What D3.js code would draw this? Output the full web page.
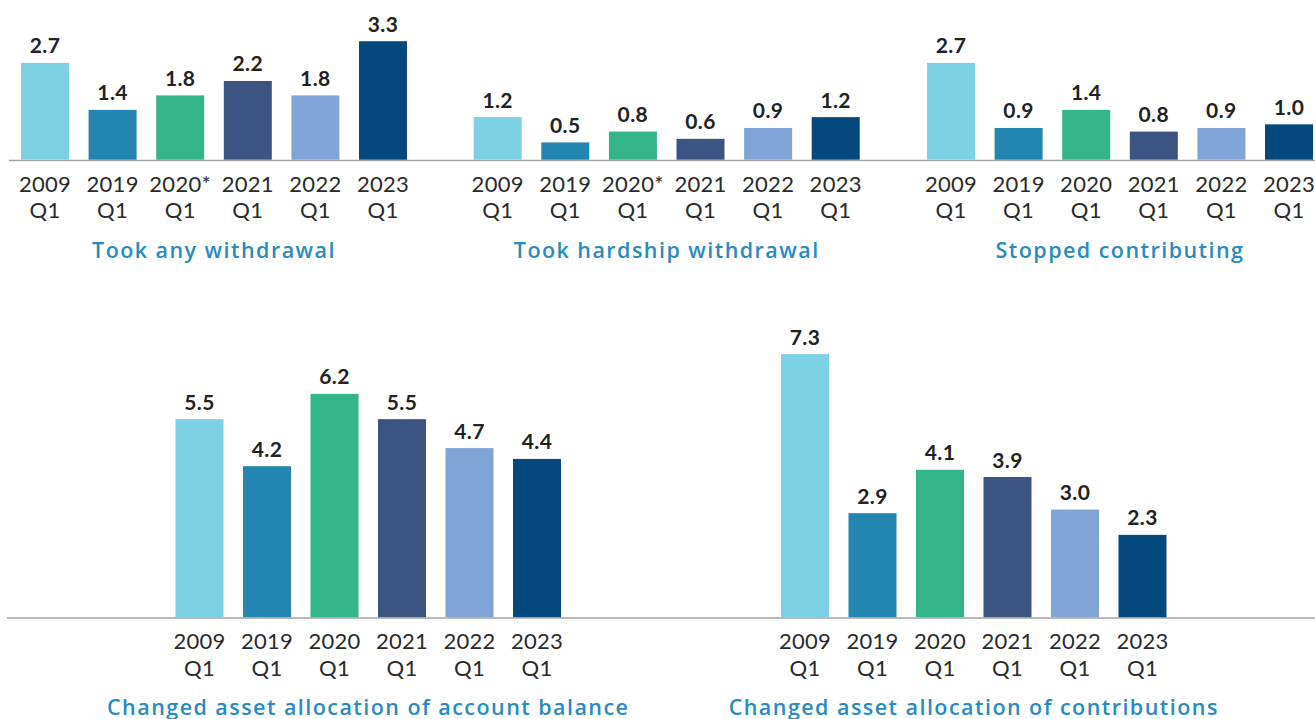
<!DOCTYPE html>
<html>
<head>
<meta charset="utf-8">
<script src="https://cdn.jsdelivr.net/npm/d3@7"></script>
<style>
  html, body { margin: 0; padding: 0; background: #fff; }
  svg { display: block; font-family: Lato, "Open Sans", sans-serif; }
</style>
</head>
<body>
<div id="chart"></div>
<script>
// nhãn trục (2 dòng: năm / quý)
const periods     = ["2009 Q1", "2019 Q1", "2020 Q1", "2021 Q1", "2022 Q1", "2023 Q1"];
const periodsStar = ["2009 Q1", "2019 Q1", "2020* Q1", "2021 Q1", "2022 Q1", "2023 Q1"];

// giá trị (%)
const anyWithdrawal      = [2.7, 1.4, 1.8, 2.2, 1.8, 3.3];
const hardshipWithdrawal = [1.2, 0.5, 0.8, 0.6, 0.9, 1.2];
const stoppedContrib     = [2.7, 0.9, 1.4, 0.8, 0.9, 1.0];
const changedBalance     = [5.5, 4.2, 6.2, 5.5, 4.7, 4.4];
const changedContrib     = [7.3, 2.9, 4.1, 3.9, 3.0, 2.3];

const titles = [
  "Took any withdrawal",
  "Took hardship withdrawal",
  "Stopped contributing",
  "Changed asset allocation of account balance",
  "Changed asset allocation of contributions"
];

const colors = ["#7dd1e4", "#2286b0", "#33b589", "#3c5482", "#80a4d6", "#03497e"];

const W = 1315, H = 719;
const pxPerUnit = 36.15;
const barW = 48;

// bố cục: hàng trên / hàng dưới
const rows = [
  { base: 160.5, lineX0: 9, step: 67.6 },
  { base: 618, lineX0: 7, step: 67.5 }
];

const panels = [
  { row: 0, x0: 21,    cats: periodsStar, values: anyWithdrawal,      title: titles[0] },
  { row: 0, x0: 473.7, cats: periodsStar, values: hardshipWithdrawal, title: titles[1] },
  { row: 0, x0: 927,   cats: periods,     values: stoppedContrib,     title: titles[2] },
  { row: 1, x0: 175.5, cats: periods,     values: changedBalance,     title: titles[3] },
  { row: 1, x0: 781,   cats: periods,     values: changedContrib,     title: titles[4] }
];

const svg = d3.select("#chart").append("svg")
  .attr("width", W)
  .attr("height", H);

const fmt = d3.format(".1f");

// đường nền
rows.forEach(r => {
  svg.append("line")
    .attr("x1", r.lineX0).attr("x2", W)
    .attr("y1", r.base).attr("y2", r.base)
    .attr("stroke", "#a3a3a3")
    .attr("stroke-width", 1.6);
});

panels.forEach(p => {
  const r = rows[p.row];
  const gap = r.step - barW;
  const start = p.x0 - gap / 2;

  const x = d3.scaleBand()
    .domain(p.cats)
    .range([start, start + r.step * p.cats.length])
    .paddingInner(gap / r.step)
    .paddingOuter(gap / r.step / 2);

  const y = d3.scaleLinear()
    .domain([0, 1])
    .range([r.base, r.base - pxPerUnit]);

  const items = p.cats.map((c, i) => ({ cat: c, value: p.values[i], color: colors[i] }));

  const g = svg.append("g");

  // Bars
  g.selectAll(".bar")
    .data(items)
    .enter().append("rect")
      .attr("class", "bar")
      .attr("x", d => x(d.cat))
      .attr("width", x.bandwidth())
      .attr("y", d => y(d.value))
      .attr("height", d => y(0) - y(d.value) - 0.8)
      .attr("fill", d => d.color);

  // Value labels
  g.selectAll(".val")
    .data(items)
    .enter().append("text")
      .attr("class", "val")
      .attr("x", d => x(d.cat) + x.bandwidth() / 2)
      .attr("y", d => y(d.value) - 9.5)
      .attr("text-anchor", "middle")
      .style("font-size", "21px")
      .style("font-weight", "700")
      .style("letter-spacing", "0.4px")
      .style("fill", "#222")
      .text(d => fmt(d.value));

  // Axis (nhãn 2 dòng)
  const axis = g.append("g")
    .attr("transform", `translate(0,${r.base})`)
    .call(d3.axisBottom(x).tickSize(0).tickPadding(0));
  axis.select(".domain").remove();
  axis.selectAll(".tick text")
    .attr("y", 0)
    .attr("dy", null)
    .style("font-family", "Lato, 'Open Sans', sans-serif")
    .style("font-size", "22px")
    .style("letter-spacing", "0.3px")
    .style("fill", "#2a2a2a")
    .each(function (d) {
      const parts = d.split(" ");
      const t = d3.select(this).text(null);
      t.append("tspan").attr("x", 0).attr("y", 31).text(parts[0]);
      t.append("tspan").attr("x", 0).attr("y", 57.5).text(parts[1]);
    });

  // Title
  const [a, b] = x.range();
  g.append("text")
    .attr("x", (a + b) / 2)
    .attr("y", r.base + 97)
    .attr("text-anchor", "middle")
    .style("font-family", "'Open Sans', Lato, sans-serif")
    .style("font-size", "21.5px")
    .style("font-weight", "600")
    .style("letter-spacing", "1.45px")
    .style("fill", "#2a8bbe")
    .text(p.title);
});
</script>
</body>
</html>
